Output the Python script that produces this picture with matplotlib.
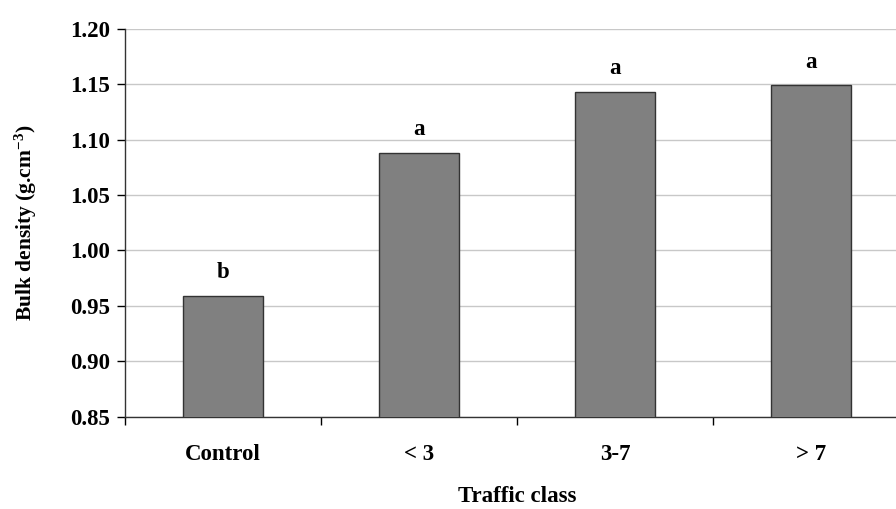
import matplotlib
matplotlib.use("Agg")
import matplotlib.pyplot as plt
import numpy as np

categories = ["Control", "< 3", "3-7", "> 7"]
values = [0.959, 1.088, 1.143, 1.149]
letters = ["b", "a", "a", "a"]
yticks = [0.85, 0.90, 0.95, 1.00, 1.05, 1.10, 1.15, 1.20]

plt.rcParams['font.family'] = ['Liberation Serif', 'DejaVu Serif']
plt.rcParams['font.weight'] = 'bold'
plt.rcParams['mathtext.fontset'] = 'custom'
plt.rcParams['mathtext.rm'] = 'Liberation Serif:bold'
plt.rcParams['mathtext.bf'] = 'Liberation Serif:bold'
plt.rcParams['mathtext.default'] = 'bf'

fig = plt.figure(figsize=(8.96, 5.09), dpi=100)
ax = fig.add_axes([125/896, 1-416.7/509, 784/896, (416.7-28.7)/509])

x = np.arange(len(categories))
ax.bar(x, values, width=0.41, color='#808080', edgecolor='#333333', linewidth=1.0, zorder=3)

ax.set_ylim(0.85, 1.20)
ax.set_xlim(-0.5, len(categories) - 0.5)
ax.set_yticks(yticks)
ax.set_yticklabels([f"{v:.2f}" for v in yticks], fontsize=16.5, fontweight='bold')
ax.yaxis.grid(True, color='#c8c8c8', linewidth=1.0, zorder=0)
ax.set_axisbelow(True)

ax.set_xticks(x)
ax.set_xticklabels(categories, fontsize=16.5, fontweight='bold')
ax.tick_params(axis='x', which='major', length=0, pad=20)
ax.set_xticks(np.arange(-0.5, len(categories)), minor=True)
ax.tick_params(axis='x', which='minor', length=6, width=1, direction='out')
ax.tick_params(axis='y', length=6, width=1, direction='out', pad=5)

for s in ['top', 'right']:
    ax.spines[s].set_visible(False)
for s in ['left', 'bottom']:
    ax.spines[s].set_linewidth(1.0)
    ax.spines[s].set_color('#333333')

for xi, v, l in zip(x, values, letters):
    ax.annotate(l, (xi, v), xytext=(0, 9), textcoords='offset points',
                ha='center', va='bottom', fontsize=16.5, fontweight='bold')

ax.set_xlabel("Traffic class", fontsize=16.5, fontweight='bold', labelpad=15)
ax.set_ylabel(r"Bulk density (g.cm$^{-3}$)", fontsize=15.5, fontweight='bold', labelpad=22)

fig.savefig("out.png", dpi=100)
